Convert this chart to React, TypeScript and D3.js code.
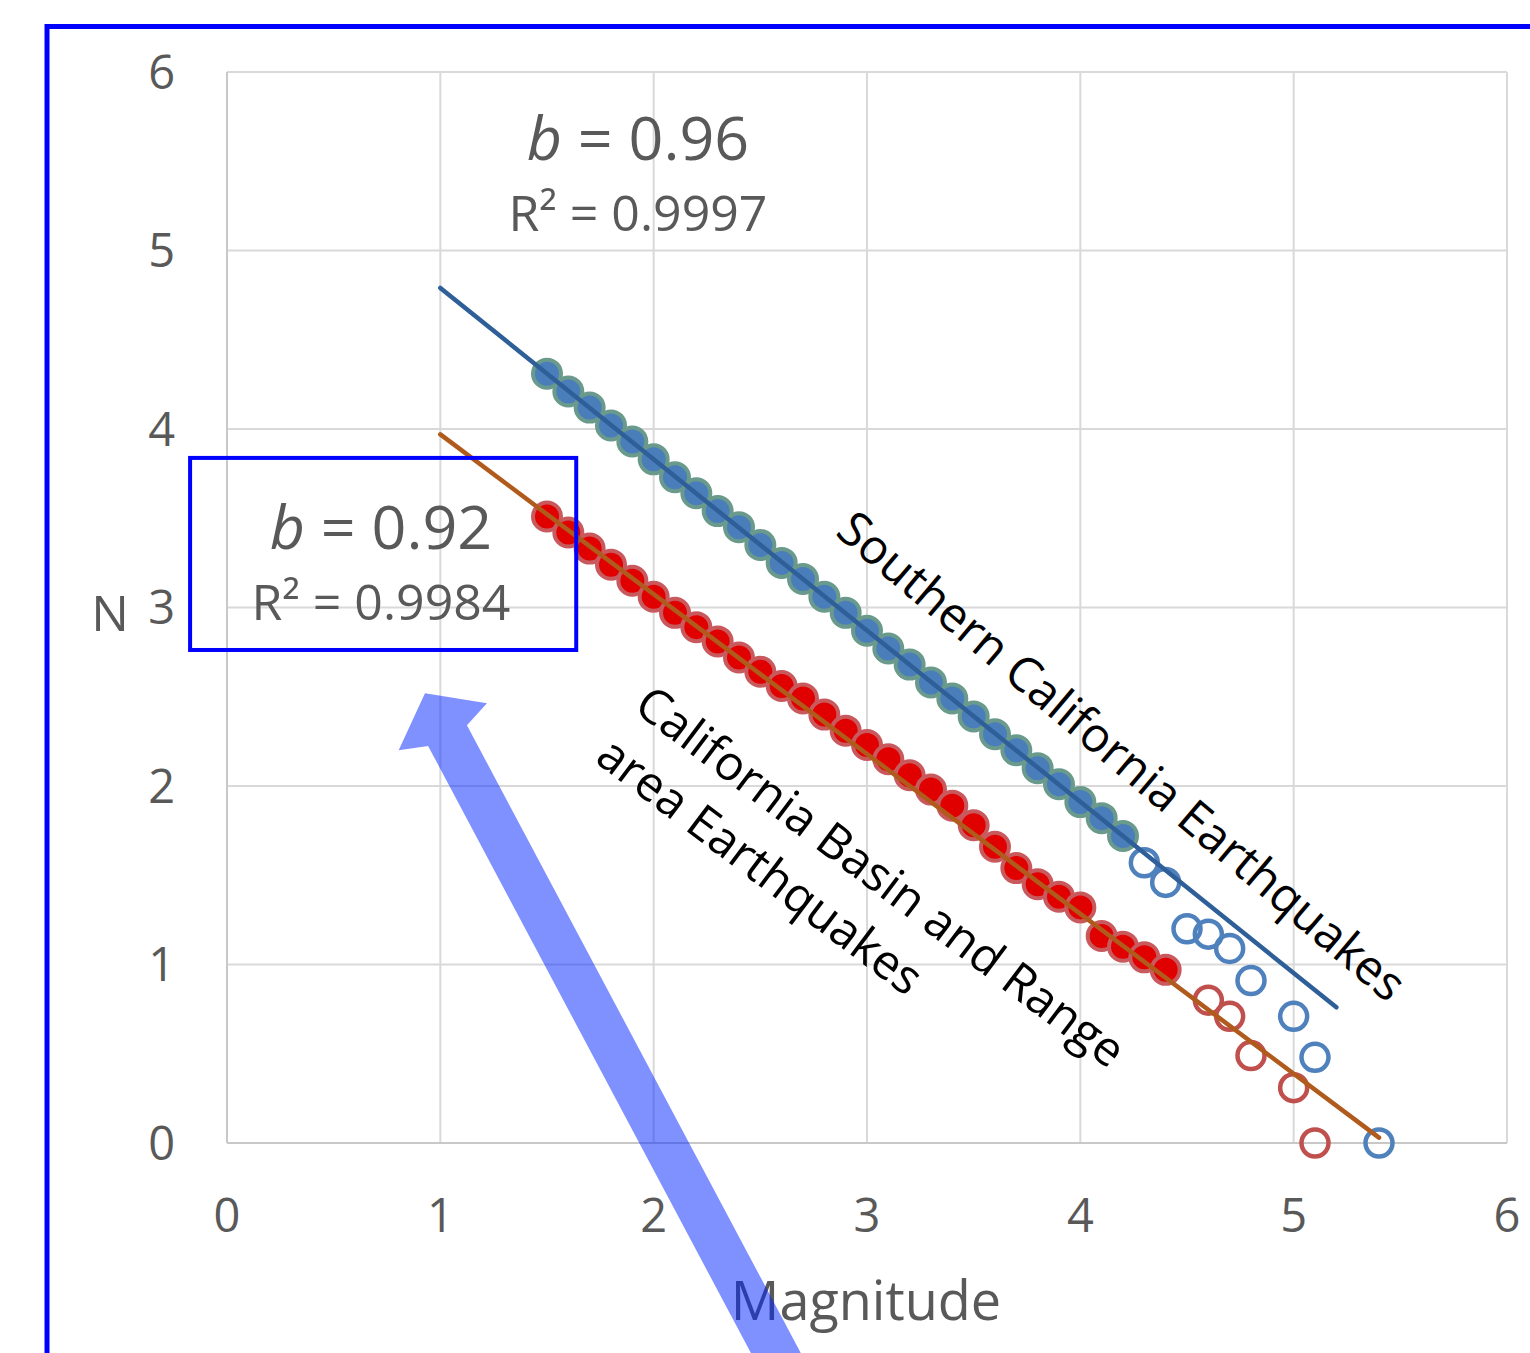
import React from 'react';
import * as d3 from 'd3';

// magnitudes used for the fit (filled) and the tail (open)
const scFitM = [1.5, 1.6, 1.7, 1.8, 1.9, 2.0, 2.1, 2.2, 2.3, 2.4, 2.5, 2.6, 2.7, 2.8, 2.9, 3.0, 3.1, 3.2, 3.3, 3.4, 3.5, 3.6, 3.7, 3.8, 3.9, 4.0, 4.1, 4.2];
const scFitN = [4.31, 4.21, 4.12, 4.02, 3.93, 3.83, 3.73, 3.64, 3.54, 3.45, 3.35, 3.25, 3.16, 3.06, 2.97, 2.87, 2.77, 2.68, 2.58, 2.49, 2.39, 2.29, 2.2, 2.1, 2.01, 1.91, 1.82, 1.72];
const scTailM = [4.3, 4.4, 4.5, 4.6, 4.7, 4.8, 5.0, 5.1, 5.4];
const scTailN = [1.57, 1.46, 1.2, 1.17, 1.09, 0.91, 0.71, 0.48, 0.0];

const brFitM = [1.5, 1.6, 1.7, 1.8, 1.9, 2.0, 2.1, 2.2, 2.3, 2.4, 2.5, 2.6, 2.7, 2.8, 2.9, 3.0, 3.1, 3.2, 3.3, 3.4, 3.5, 3.6, 3.7, 3.8, 3.9, 4.0, 4.1, 4.2, 4.3, 4.4];
const brFitN = [3.51, 3.42, 3.33, 3.24, 3.15, 3.06, 2.97, 2.89, 2.81, 2.72, 2.64, 2.56, 2.49, 2.4, 2.31, 2.23, 2.15, 2.06, 1.98, 1.89, 1.78, 1.66, 1.54, 1.45, 1.38, 1.32, 1.16, 1.1, 1.04, 0.97];
const brTailM = [4.6, 4.7, 4.8, 5.0, 5.1];
const brTailN = [0.8, 0.71, 0.49, 0.31, 0.0];

// trend line end points [M, N]
const scTrend = [[1, 4.79], [5.2, 0.76]];
const brTrend = [[1, 3.97], [5.4, 0.03]];

const ticks = [0, 1, 2, 3, 4, 5, 6];

export default function App() {
  const W = 1530, H = 1353;
  const x = d3.scaleLinear().domain([0, 6]).range([227, 1507]);
  const y = d3.scaleLinear().domain([0, 6]).range([1143, 72]);
  const line = d3.line<number[]>().x(d => x(d[0])).y(d => y(d[1]));

  const gray = '#595959';
  const font = '"Open Sans", sans-serif';

  // arrow (annotation) in data units
  const tip = [0.928, 2.52], tail = [2.69, -1.44];
  const p0 = [x(tip[0]), y(tip[1])], p1 = [x(tail[0]), y(tail[1])];
  const len = Math.hypot(p1[0] - p0[0], p1[1] - p0[1]);
  const ux = (p1[0] - p0[0]) / len, uy = (p1[1] - p0[1]) / len;
  const px = -uy, py = ux;
  const pt = (a: number, b: number) => [p0[0] + ux * a + px * b, p0[1] + uy * a + py * b];
  const arrowPts = [pt(0, 0), pt(38, 50), pt(48, 22), [p1[0] + px * 22, p1[1] + py * 22], [p1[0] - px * 22, p1[1] - py * 22], pt(48, -22), pt(38, -50)];

  return (
    <div style={{ position: 'absolute', left: 0, top: 0 }}>
      <svg width={W} height={H} style={{ display: 'block', background: '#fff' }}>
        {/* grid */}
        {ticks.map(t => (
          <line key={'gx' + t} x1={x(t)} x2={x(t)} y1={y(6)} y2={y(0)} stroke="#d9d9d9" strokeWidth={2} />
        ))}
        {ticks.map(t => (
          <line key={'gy' + t} x1={x(0)} x2={x(6)} y1={y(t)} y2={y(t)} stroke="#d9d9d9" strokeWidth={2} />
        ))}
        <line x1={x(0)} x2={x(6)} y1={y(0)} y2={y(0)} stroke="#c8c8c8" strokeWidth={2} />
        <line x1={x(0)} x2={x(0)} y1={y(6)} y2={y(0)} stroke="#c8c8c8" strokeWidth={2} />

        {/* tick labels */}
        {ticks.map(t => (
          <text key={'ty' + t} x={175} y={y(t)} dy="0.36em" textAnchor="end" fontFamily={font} fontSize={47} fill={gray}>{t}</text>
        ))}
        {ticks.map(t => (
          <text key={'tx' + t} x={x(t)} y={1232} textAnchor="middle" fontFamily={font} fontSize={47} fill={gray}>{t}</text>
        ))}
        <text x={110} y={631} textAnchor="middle" fontFamily={font} fontSize={50} fill={gray}>N</text>
        <text x={866} y={1320} textAnchor="middle" fontFamily={font} fontSize={54} fill={gray}>Magnitude</text>

        {/* filled points */}
        {scFitM.map((m, i) => (
          <circle key={'sf' + i} cx={x(m)} cy={y(scFitN[i])} r={14} fill="#4a7ebb" stroke="#6a9a8c" strokeWidth={4} />
        ))}
        {brFitM.map((m, i) => (
          <circle key={'bf' + i} cx={x(m)} cy={y(brFitN[i])} r={14} fill="#e00000" stroke="#c85a5e" strokeWidth={4} />
        ))}
        {/* open points */}
        {scTailM.map((m, i) => (
          <circle key={'so' + i} cx={x(m)} cy={y(scTailN[i])} r={13.5} fill="none" stroke="#4f81bd" strokeWidth={4.5} />
        ))}
        {brTailM.map((m, i) => (
          <circle key={'bo' + i} cx={x(m)} cy={y(brTailN[i])} r={13.5} fill="none" stroke="#c0504d" strokeWidth={4.5} />
        ))}

        {/* trend lines */}
        <path d={line(scTrend) || ''} fill="none" stroke="#2f5f98" strokeWidth={4.5} strokeLinecap="round" />
        <path d={line(brTrend) || ''} fill="none" stroke="#b05a1c" strokeWidth={4.5} strokeLinecap="round" />

        {/* equations */}
        <text x={638} y={160} textAnchor="middle" fontFamily={font} fontSize={61} fill={gray}>
          <tspan fontStyle="italic">b</tspan> = 0.96
        </text>
        <text x={638} y={231} textAnchor="middle" fontFamily={font} fontSize={50} fill={gray}>R² = 0.9997</text>
        <text x={381} y={549} textAnchor="middle" fontFamily={font} fontSize={61} fill={gray}>
          <tspan fontStyle="italic">b</tspan> = 0.92
        </text>
        <text x={381} y={620} textAnchor="middle" fontFamily={font} fontSize={50} fill={gray}>R² = 0.9984</text>

        {/* rotated labels */}
        <text transform="translate(834,534) rotate(40.3)" fontFamily={font} fontSize={48} fill="#000">Southern California Earthquakes</text>
        <text transform="translate(632,710) rotate(37)" fontFamily={font} fontSize={48} fill="#000">
          <tspan x={0} y={0}>California Basin and Range</tspan>
          <tspan x={0} y={64}>area Earthquakes</tspan>
        </text>

        {/* highlight box */}
        <rect x={x(-0.173)} y={y(3.838)} width={x(1.637) - x(-0.173)} height={y(2.762) - y(3.838)} fill="none" stroke="#0000ff" strokeWidth={4} />

        {/* arrow */}
        <polygon points={arrowPts.map(p => p.join(',')).join(' ')} fill="#0022ff" fillOpacity={0.5} />

        {/* outer frame */}
        <path d={`M47,${H + 10} V26.5 H${W + 10}`} fill="none" stroke="#0000ff" strokeWidth={5} />
      </svg>
    </div>
  );
}
